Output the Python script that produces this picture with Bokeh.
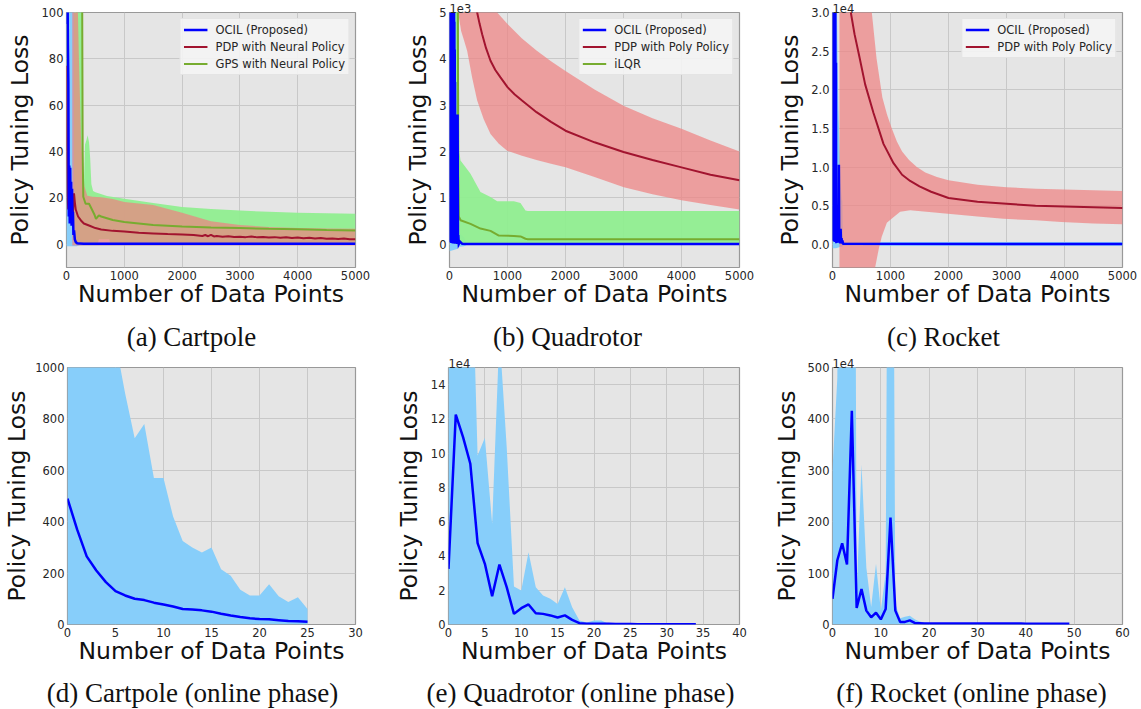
from bokeh.plotting import figure
from bokeh.models import Range1d, FixedTicker, CustomJSTickFormatter, Legend, LegendItem
from bokeh.core.properties import value
from bokeh.layouts import row, column
from bokeh.embed import file_html
from bokeh.resources import INLINE

# ---------------- (a) Cartpole ----------------
cart_ocil_x = [0, 8, 16, 24, 32, 40, 48, 56, 64, 72, 80, 88, 96, 104, 112, 120, 130, 145, 160, 180, 220, 300, 5000]
cart_ocil_y = [160, 95, 120, 86, 70, 12, 34, 9, 33, 14, 27, 8, 24, 10, 14, 4, 6, 2, 1.0, 0.5, 0.3, 0.2, 0.2]
cart_ocil_band_x = [0, 150, 175, 230, 5000]
cart_ocil_band_up = [200, 200, 3, 0.8, 0.5]
cart_ocil_band_lo = [-0.8, -0.8, -0.8, -0.5, -0.3]

cart_pdp_x = [0, 10, 20, 30, 40, 50, 60, 70, 80, 90, 100, 115, 130, 145, 160, 200, 250, 300, 400, 500,
              600, 800, 1000, 1250, 1500, 1750, 2000, 2200, 2350, 2400, 2450, 2500, 2550, 2600, 2700, 2800,
              2900, 3000, 3100, 3200, 3300, 3400, 3500, 3600, 3700, 3800, 3900, 4000, 4100, 4200, 4300, 4400,
              4500, 4600, 4700, 4800, 4900, 5000]
cart_pdp_y = [77, 40, 20, 15, 22, 18, 12, 16, 21, 14, 11, 15, 22, 18, 15, 12, 10.3, 9, 8, 7,
              6.4, 5.8, 5.5, 5.0, 4.7, 4.4, 4.2, 4.0, 3.6, 4.0, 3.5, 4.1, 3.4, 3.6, 3.3, 3.5,
              3.2, 3.3, 3.1, 3.4, 3.0, 3.2, 2.9, 3.1, 2.8, 3.0, 2.7, 2.9, 2.6, 2.8, 2.5, 2.7,
              2.4, 2.5, 2.3, 2.5, 2.2, 2.2]
cart_pdp_up_x = [100, 180, 215, 250, 280, 310, 360, 450, 600, 800, 1000, 1500, 2000, 2500, 3000, 3500, 4000, 4500, 5000]
cart_pdp_up = [200, 120, 80, 47, 33, 25, 21, 20.5, 20.3, 19.5, 18.3, 17.0, 13.6, 10.0, 8.3, 7.5, 7.0, 6.8, 6.7]
cart_pdp_lo_x = [100, 5000]
cart_pdp_lo = [-0.5, -0.5]

cart_gps_x = [100, 268, 272, 280, 290, 330, 390, 440, 480, 510, 560, 600, 800, 1000, 1500, 2000, 2500, 3000, 3500, 4000, 4500, 5000]
cart_gps_y = [400, 400, 100, 40, 20.5, 17.5, 17.5, 15, 13, 11, 12.5, 12, 10.5, 9.6, 8.3, 7.7, 7.3, 7.0, 6.7, 6.5, 6.2, 6.0]
cart_gps_up_x = [130, 270, 285, 300, 320, 345, 365, 390, 410, 430, 460, 500, 700, 1000, 1500, 2000, 2500, 3000, 3500, 4000, 4500, 5000]
cart_gps_up = [300, 300, 25, 24, 43, 45, 47, 44, 37, 26, 23, 22.5, 20.8, 19.7, 17.8, 16.1, 15.2, 14.6, 14.0, 13.6, 13.4, 13.2]
cart_gps_lo_x = [130, 540, 560, 740, 760, 5000]
cart_gps_lo = [0, 0, 2.2, 2.2, 0, 0]

# ---------------- (b) Quadrotor ----------------
quad_ocil_x = [0, 3, 6, 9, 12, 15, 18, 21, 24, 27, 30, 33, 36, 39, 42, 45, 48, 51, 54, 57, 60, 63, 66, 69, 72,
               75, 78, 81, 84, 87, 90, 93, 96, 100, 104, 108, 112, 116, 120, 124, 128, 134, 140, 146, 152, 160,
               180, 220, 280, 5000]
quad_ocil_y = [9000, 80, 8800, 60, 8600, 50, 8400, 40, 8200, 50, 8000, 30, 7800, 40, 7500, 30, 7200, 30, 6800, 20,
               6400, 25, 6000, 20, 5600, 20, 5200, 15, 4800, 15, 4200, 10, 3500, 10, 1200, 10, 900, 10, 600, 10,
               400, 10, 2800, 10, 200, 8, 60, 10, 5, 5]
quad_ocil_band_x = [0, 130, 150, 170, 250, 300, 5000]
quad_ocil_band_up = [9000, 6000, 400, 250, 150, 20, 20]
quad_ocil_band_lo = [-150, -100, -60, -50, -40, -10, -10]

quad_pdp_x = [150, 300, 477, 520, 563, 630, 707, 790, 879, 1000, 1125, 1250, 1500, 1750, 2000, 2500, 3000, 3500,
              4000, 4500, 5000]
quad_pdp_y = [12000, 7000, 5000, 4750, 4530, 4230, 3960, 3760, 3600, 3390, 3230, 3100, 2850, 2640, 2450, 2200,
              1990, 1820, 1660, 1500, 1380]
quad_pdp_up_x = [100, 500, 822, 1000, 1250, 1500, 1750, 2000, 2500, 3000, 3500, 4000, 4500, 5000]
quad_pdp_up = [20000, 8000, 5000, 4750, 4440, 4180, 3950, 3740, 3340, 2990, 2720, 2490, 2240, 2000]
quad_pdp_lo_x = [100, 150, 200, 250, 305, 390, 477, 590, 707, 850, 994, 1250, 1500, 1750, 2000, 2500, 3006, 3500,
                 4000, 4500, 5000]
quad_pdp_lo = [5500, 5000, 4600, 4400, 4170, 3600, 3100, 2700, 2380, 2170, 2020, 1910, 1820, 1740, 1660, 1450,
               1230, 1080, 950, 850, 750]

quad_ilqr_x = [100, 140, 150, 160, 190, 362, 534, 707, 851, 1109, 1224, 1310, 1350, 5000]
quad_ilqr_y = [9000, 8000, 1500, 600, 520, 440, 340, 290, 190, 180, 170, 120, 110, 110]
quad_ilqr_up_x = [100, 150, 170, 190, 362, 534, 707, 822, 1109, 1224, 1310, 1350, 5000]
quad_ilqr_up = [9000, 8000, 2000, 1810, 1520, 1130, 1020, 930, 930, 890, 730, 720, 720]
quad_ilqr_lo_x = [100, 5000]
quad_ilqr_lo = [0, 0]

# ---------------- (c) Rocket ----------------
rock_ocil_x = [0, 8, 16, 24, 32, 40, 48, 56, 60, 64, 72, 80, 88, 96, 104, 110, 116, 124, 132, 140, 148, 156, 164,
               172, 180, 200, 5000]
rock_ocil_y = [50000, 500, 45000, 400, 40000, 300, 35000, 300, 23500, 300, 200, 3000, 200, 5000, 300, 10300, 200,
               1500, 100, 2000, 100, 800, 100, 500, 80, 60, 50]
rock_ocil_band_x = [0, 60, 100, 140, 160, 170, 180, 200, 5000]
rock_ocil_band_up = [60000, 40000, 18000, 8000, 5700, 5700, 500, 300, 300]
rock_ocil_band_lo = [-500, -500, -400, -300, -300, -300, -200, -200, -200]

rock_pdp_x = [150, 200, 250, 316, 380, 460, 563, 707, 879, 1052, 1200, 1339, 1500, 1700, 2000, 2500, 3000, 3500,
              4000, 4500, 5000]
rock_pdp_y = [60000, 45000, 36000, 30000, 27200, 24400, 20700, 17000, 13000, 10500, 9000, 8200, 7500, 6800, 6000,
              5500, 5250, 5000, 4900, 4800, 4700]
rock_pdp_up_x = [120, 678, 760, 860, 940, 1023, 1110, 1200, 1320, 1454, 1600, 1800, 2000, 2500, 3000, 3500, 4000,
                 4500, 5000]
rock_pdp_up = [80000, 30000, 24000, 19000, 16800, 15000, 13300, 12000, 10900, 10000, 9300, 8700, 8300, 7700, 7400,
               7200, 7100, 7000, 6900]
rock_pdp_lo_x = [120, 500, 700, 735, 800, 850, 937, 1050, 1167, 1339, 1943, 2500, 2948, 3500, 3943, 4500, 5000]
rock_pdp_lo = [-20000, -15000, -8000, -3000, -500, 1000, 2800, 3500, 4200, 4400, 4000, 3600, 3300, 3100, 2900,
               2700, 2600]

# ---------------- (d) Cartpole online ----------------
cart_on_x = [0, 1, 2, 3, 4, 5, 6, 7, 8, 9, 10, 11, 12, 13, 14, 15, 16, 17, 18, 19, 20, 21, 22, 23, 24, 25]
cart_on_mean = [490, 370, 265, 210, 165, 130, 113, 100, 95, 85, 78, 70, 60, 58, 55, 50, 42, 35, 29, 24, 21, 20, 17, 14, 13, 11]
cart_on_up = [1400, 1400, 1400, 1400, 1300, 1100, 900, 725, 780, 570, 570, 420, 325, 300, 280, 300, 215, 190, 135,
              113, 113, 157, 110, 88, 106, 60]
cart_on_lo = [0, 0, 0, 0, 0, 0, 0, 0, 0, 0, 0, 0, 0, 0, 0, 0, 0, 0, 0, 0, 0, 0, 0, 0, 0, 0]

# ---------------- (e) Quadrotor online ----------------
quad_on_x = [0, 1, 2, 3, 4, 5, 6, 7, 8, 9, 10, 11, 12, 13, 14, 15, 16, 17, 18, 19, 20, 21, 22, 23, 24, 25, 26, 27,
             28, 29, 30, 31, 32, 33, 34]
quad_on_mean = [3.25e4, 12.25e4, 10.94e4, 9.38e4, 4.75e4, 3.54e4, 1.65e4, 3.5e4, 2.18e4, 0.62e4, 0.95e4, 1.17e4,
                0.66e4, 0.62e4, 0.53e4, 0.41e4, 0.53e4, 0.27e4, 0.08e4, 0.05e4, 0.05e4, 0.04e4, 0.04e4, 0.03e4,
                0.03e4, 0.03e4, 0.02e4, 0.02e4, 0.02e4, 0.02e4, 0.02e4, 0.02e4, 0.02e4, 0.02e4, 0.02e4]
quad_on_up = [16e4, 20e4, 20e4, 25e4, 9.87e4, 10.9e4, 5.88e4, 17e4, 10.36e4, 2.22e4, 1.99e4, 4.22e4, 2.18e4,
              1.69e4, 1.5e4, 1.2e4, 2.18e4, 1.0e4, 0.23e4, 0.12e4, 0.23e4, 0.23e4, 0.04e4, 0.04e4, 0.03e4,
              0.03e4, 0.03e4, 0.02e4, 0.02e4, 0.02e4, 0.02e4, 0.02e4, 0.02e4, 0.02e4, 0.02e4]
quad_on_lo = [0, 0, 0, 0, 0, 0, 0, 0, 0, 0, 0, 0, 0, 0, 0, 0, 0, 0, 0, 0, 0, 0, 0, 0, 0, 0, 0, 0, 0, 0, 0, 0, 0, 0, 0]

# ---------------- (f) Rocket online ----------------
rock_on_x = [0, 1, 2, 3, 4, 5, 6, 7, 8, 9, 10, 11, 12, 13, 14, 15, 16, 17, 18, 19, 20, 21, 22, 23, 24, 25, 26, 27,
             28, 29, 30, 31, 32, 33, 34, 35, 36, 37, 38, 39, 40, 41, 42, 43, 44, 45, 46, 47, 48, 49]
rock_on_mean = [50e4, 125e4, 158e4, 117e4, 416e4, 32e4, 69e4, 27e4, 14e4, 23e4, 10e4, 30e4, 208e4, 27e4, 5e4, 5e4,
                8e4, 3e4, 2.5e4, 2e4, 2e4, 2e4, 2e4, 2e4, 2e4, 2e4, 2e4, 2e4, 2e4, 2e4, 1.8e4, 1.8e4, 1.8e4,
                1.8e4, 1.8e4, 1.8e4, 1.8e4, 1.8e4, 1.8e4, 1.8e4, 1.6e4, 1.6e4, 1.6e4, 1.6e4, 1.6e4, 1.6e4,
                1.6e4, 1.6e4, 1.6e4, 1.6e4]
rock_on_up = [300e4, 480e4, 2000e4, 2000e4, 2700e4, 60e4, 311e4, 111e4, 34e4, 118e4, 27e4, 100e4, 2000e4, 40e4,
              12e4, 15e4, 17e4, 10e4, 6e4, 4e4, 3e4, 2.5e4, 2e4, 2e4, 2e4, 2e4, 2e4, 2e4, 2e4, 2e4, 1.8e4, 1.8e4,
              1.8e4, 1.8e4, 1.8e4, 1.8e4, 1.8e4, 1.8e4, 1.8e4, 1.8e4, 1.6e4, 1.6e4, 1.6e4, 1.6e4, 1.6e4, 1.6e4,
              1.6e4, 1.6e4, 1.6e4, 1.6e4]
rock_on_lo = [0, 0, 0, 0, 0, 0, 0, 0, 0, 0, 0, 0, 0, 0, 0, 0, 0, 0, 0, 0, 0, 0, 0, 0, 0, 0, 0, 0, 0, 0, 0, 0, 0, 0,
              0, 0, 0, 0, 0, 0, 0, 0, 0, 0, 0, 0, 0, 0, 0, 0]

# ---------------- ticks & labels ----------------
offline_x_ticks = [0, 1000, 2000, 3000, 4000, 5000]
cart_y_ticks = [0, 20, 40, 60, 80, 100]
quad_y_ticks = [0, 1000, 2000, 3000, 4000, 5000]
rock_y_ticks = [0, 5000, 10000, 15000, 20000, 25000, 30000]
cart_on_x_ticks = [0, 5, 10, 15, 20, 25, 30]
cart_on_y_ticks = [0, 200, 400, 600, 800, 1000]
quad_on_x_ticks = [0, 5, 10, 15, 20, 25, 30, 35, 40]
quad_on_y_ticks = [0, 2e4, 4e4, 6e4, 8e4, 10e4, 12e4, 14e4]
rock_on_x_ticks = [0, 10, 20, 30, 40, 50, 60]
rock_on_y_ticks = [0, 100e4, 200e4, 300e4, 400e4, 500e4]

x_label = "Number of Data Points"
y_label = "Policy Tuning Loss"
captions = ["(a) Cartpole", "(b) Quadrotor", "(c) Rocket",
            "(d) Cartpole (online phase)", "(e) Quadrotor (online phase)", "(f) Rocket (online phase)"]

BLUE = "#0000ff"
RED = "#a2142f"
GREEN = "#77ac30"
BAND_BLUE = "#87cefa"
BAND_RED = "#f08080"
BAND_GREEN = "#90ee90"
SANS = "DejaVu Sans"
SERIF = "Liberation Serif"


def make_fig(width, height, left, right, top, bottom, xr, yr, xticks, yticks, yfmt=None,
             offset_text="", ystand=5):
    p = figure(width=width, height=height, x_range=Range1d(*xr), y_range=Range1d(*yr),
               output_backend="svg", toolbar_location=None,
               min_border_left=left, min_border_right=right, min_border_top=top, min_border_bottom=bottom,
               background_fill_color="#e5e5e5", border_fill_color="white",
               outline_line_color="#999999", outline_line_width=1.2)
    p.xaxis.ticker = FixedTicker(ticks=xticks, minor_ticks=[])
    p.yaxis.ticker = FixedTicker(ticks=yticks, minor_ticks=[])
    if yfmt is not None:
        p.yaxis.formatter = CustomJSTickFormatter(code=yfmt)
    for ax in (p.xaxis[0], p.yaxis[0]):
        ax.axis_line_color = None
        ax.major_tick_line_color = None
        ax.minor_tick_line_color = None
        ax.major_tick_in = 0
        ax.major_tick_out = 0
        ax.major_label_standoff = 3
        ax.major_label_text_font = SANS
        ax.major_label_text_font_size = "11.5px"
        ax.major_label_text_color = "#262626"
        ax.axis_label_text_font = SANS
        ax.axis_label_text_font_style = "normal"
        ax.axis_label_text_font_size = "23.5px"
        ax.axis_label_text_color = "#111111"
    p.xaxis.axis_label = x_label
    p.yaxis.axis_label = y_label
    p.xaxis.axis_label_standoff = -3
    p.yaxis.axis_label_standoff = ystand
    p.grid.grid_line_color = "#c8c8c8"
    p.grid.grid_line_width = 1
    p.title.text = offset_text
    p.title.align = "left"
    p.title.offset = 0
    p.title.standoff = 0
    p.title.text_font = SANS
    p.title.text_font_size = "11.5px"
    p.title.text_font_style = "normal"
    p.title.text_color = "#262626"
    return p


def caption_fig(width, height, text, cx, cy):
    c = figure(width=width, height=height, x_range=Range1d(0, width), y_range=Range1d(0, height),
               output_backend="svg", toolbar_location=None, min_border=0,
               outline_line_color=None, background_fill_color="white", border_fill_color="white")
    c.axis.visible = False
    c.grid.visible = False
    c.text(x=[cx], y=[cy], text=[text], text_align="center", text_baseline="middle",
           text_font=value(SERIF), text_font_size=value("27px"), text_color="#111111")
    return c


def band(p, xu, up, xl, lo, color, alpha):
    p.patch(x=list(xu) + list(xl)[::-1], y=list(up) + list(lo)[::-1],
            fill_color=color, fill_alpha=alpha, line_color=None)


def add_legend(p, items):
    lg = Legend(items=[LegendItem(label=t, renderers=[r]) for t, r in items], location="top_right",
                label_text_font=SANS, label_text_font_size="11.5px", label_text_color="#262626",
                glyph_width=24, glyph_height=15, label_height=15, label_standoff=8,
                padding=3, spacing=2, margin=6,
                background_fill_color="#f4f4f4", background_fill_alpha=0.9,
                border_line_color="#d6d6d6", border_line_width=1)
    p.add_layout(lg)


TOP_H, CAP_H, BOT_H = 318, 37, 317

# (a)
pa = make_fig(380, TOP_H, 66, 25, 12, 51, (0, 5000), (-10, 100), offline_x_ticks, cart_y_ticks, ystand=5)
band(pa, cart_ocil_band_x, cart_ocil_band_up, cart_ocil_band_x, cart_ocil_band_lo, BAND_BLUE, 1.0)
band(pa, cart_gps_up_x, cart_gps_up, cart_gps_lo_x, cart_gps_lo, BAND_GREEN, 0.95)
band(pa, cart_pdp_up_x, cart_pdp_up, cart_pdp_lo_x, cart_pdp_lo, BAND_RED, 0.7)
ga = pa.line(cart_gps_x, cart_gps_y, line_color=GREEN, line_width=2)
ra = pa.line(cart_pdp_x, cart_pdp_y, line_color=RED, line_width=2)
ba = pa.line(cart_ocil_x, cart_ocil_y, line_color=BLUE, line_width=2.5)
add_legend(pa, [("OCIL (Proposed)", ba), ("PDP with Neural Policy", ra), ("GPS with Neural Policy", ga)])

# (b)
pb = make_fig(380, TOP_H, 69, 21, 12, 51, (0, 5000), (-500, 5000), offline_x_ticks, quad_y_ticks,
              yfmt="return (tick/1e3).toFixed(0);", offset_text="1e3", ystand=4)
band(pb, quad_ocil_band_x, quad_ocil_band_up, quad_ocil_band_x, quad_ocil_band_lo, BAND_BLUE, 1.0)
band(pb, quad_ilqr_up_x, quad_ilqr_up, quad_ilqr_lo_x, quad_ilqr_lo, BAND_GREEN, 0.95)
band(pb, quad_pdp_up_x, quad_pdp_up, quad_pdp_lo_x, quad_pdp_lo, BAND_RED, 0.7)
gb = pb.line(quad_ilqr_x, quad_ilqr_y, line_color=GREEN, line_width=2)
rb = pb.line(quad_pdp_x, quad_pdp_y, line_color=RED, line_width=2)
bb = pb.line(quad_ocil_x, quad_ocil_y, line_color=BLUE, line_width=2.5, line_join="miter")
add_legend(pb, [("OCIL (Proposed)", bb), ("PDP with Poly Policy", rb), ("iLQR", gb)])

# (c)
pc = make_fig(381, TOP_H, 72, 19, 12, 51, (0, 5000), (-3000, 30000), offline_x_ticks, rock_y_ticks,
              yfmt="return (tick/1e4).toFixed(1);", offset_text="1e4", ystand=4)
band(pc, rock_ocil_band_x, rock_ocil_band_up, rock_ocil_band_x, rock_ocil_band_lo, BAND_BLUE, 1.0)
band(pc, rock_pdp_up_x, rock_pdp_up, rock_pdp_lo_x, rock_pdp_lo, BAND_RED, 0.7)
rc = pc.line(rock_pdp_x, rock_pdp_y, line_color=RED, line_width=2)
bc = pc.line(rock_ocil_x, rock_ocil_y, line_color=BLUE, line_width=2.5)
add_legend(pc, [("OCIL (Proposed)", bc), ("PDP with Poly Policy", rc)])

# (d)
pd_ = make_fig(380, BOT_H, 65, 25, 12, 48, (0, 30), (0, 1000), cart_on_x_ticks, cart_on_y_ticks, ystand=1)
pd_.varea(x=cart_on_x, y1=cart_on_lo, y2=cart_on_up, fill_color=BAND_BLUE, fill_alpha=1.0)
pd_.line(cart_on_x, cart_on_mean, line_color=BLUE, line_width=2.5)

# (e)
pe = make_fig(380, BOT_H, 68, 21, 12, 48, (0, 40), (0, 15e4), quad_on_x_ticks, quad_on_y_ticks,
              yfmt="return (tick/1e4).toFixed(0);", offset_text="1e4", ystand=5)
pe.varea(x=quad_on_x, y1=quad_on_lo, y2=quad_on_up, fill_color=BAND_BLUE, fill_alpha=1.0)
pe.line(quad_on_x, quad_on_mean, line_color=BLUE, line_width=2.5)

# (f)
pf = make_fig(381, BOT_H, 72, 19, 12, 48, (0, 60), (0, 500e4), rock_on_x_ticks, rock_on_y_ticks,
              yfmt="return (tick/1e4).toFixed(0);", offset_text="1e4", ystand=4)
pf.varea(x=rock_on_x, y1=rock_on_lo, y2=rock_on_up, fill_color=BAND_BLUE, fill_alpha=1.0)
pf.line(rock_on_x, rock_on_mean, line_color=BLUE, line_width=2.5)

ca = caption_fig(380, CAP_H, captions[0], 191, 19)
cb = caption_fig(380, CAP_H, captions[1], 187, 19)
cc = caption_fig(381, CAP_H, captions[2], 183, 19)
cd = caption_fig(380, CAP_H, captions[3], 192, 17)
ce = caption_fig(380, CAP_H, captions[4], 200, 17)
cf = caption_fig(381, CAP_H, captions[5], 211, 17)

layout = column(row(pa, pb, pc), row(ca, cb, cc), row(pd_, pe, pf), row(cd, ce, cf))
open("out.html", "w").write(file_html(layout, INLINE))
